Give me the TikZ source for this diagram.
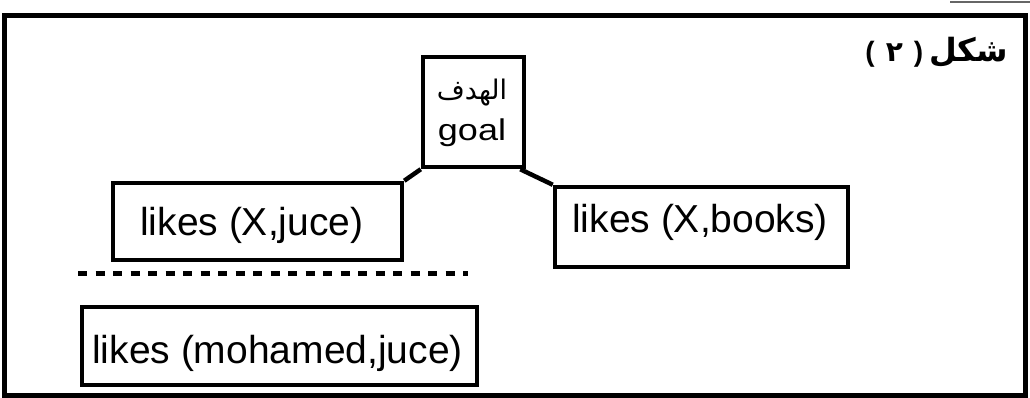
\documentclass[tikz,border=0pt]{standalone}
\usepackage{fontspec}
\usepackage{graphicx}
\usetikzlibrary{calc}
\setmainfont{Liberation Sans}
\newfontfamily\arabicfont[Script=Arabic]{DejaVu Sans}
\TeXXeTstate=1
\tikzset{
  box/.style={draw=black, line width=4.5pt, rectangle, inner sep=0pt, fill=none},
  boxtext/.style={inner sep=0pt, anchor=base west, font=\fontsize{39}{44}\selectfont},
  link/.style={draw=black, line width=4.5pt},
}
\begin{document}
\begin{tikzpicture}[x=1pt,y=-1pt]
\useasboundingbox (0,0) rectangle (1030,398);
% outer frame
\draw[line width=5pt] (4,16) rectangle (1025,395);
\draw[line width=1.2pt, black!60] (950,2) -- (1030,2);
% figure label
\node[anchor=base east, inner sep=0pt, font=\bfseries\fontsize{28}{32}\selectfont] (label) at (1008,62)
  {(\hspace{11pt}{\arabicfont\fontsize{28}{30}\selectfont ٢}\hspace{11pt})\hspace{6pt}{\arabicfont\bfseries\fontsize{32}{36}\selectfont\beginR شكل\endR}};
% goal
\node[box, minimum width=101pt, minimum height=110pt] (goal) at (473.5,112) {};
\node[inner sep=0pt, anchor=base, font=\arabicfont\fontsize{27}{30}\selectfont] (goalar) at (472,100) {\beginR الهدف\endR};
\node[inner sep=0pt, anchor=base, font=\fontsize{30}{34}\selectfont] (goalen) at (472,141) {\scalebox{1.2}[1]{goal}};
% boxes
\node[box, minimum width=289pt, minimum height=77pt] (xjuce) at (257.5,221.5) {};
\node[boxtext] (xjucet) at (140,235) {likes (X,juce)};
\node[box, minimum width=293pt, minimum height=80pt] (books) at (701.5,227) {};
\node[boxtext] (bookst) at (572,233) {likes (X,books)};
\node[box, minimum width=395pt, minimum height=78pt] (moh) at (279.5,346) {};
\node[boxtext] (moht) at (92,363) {likes (mohamed,juce)};
% connectors
\draw[link] (goal.south west) -- (xjuce.north east);
\draw[link] ([xshift=-6pt]goal.south east) -- (books.north west);
% dashed separator
\coordinate (d1) at (78,273);
\coordinate (d2) at (468,273);
\draw[line width=5pt, dash pattern=on 9pt off 8.5pt] (d1) -- (d2);
\end{tikzpicture}
\end{document}
